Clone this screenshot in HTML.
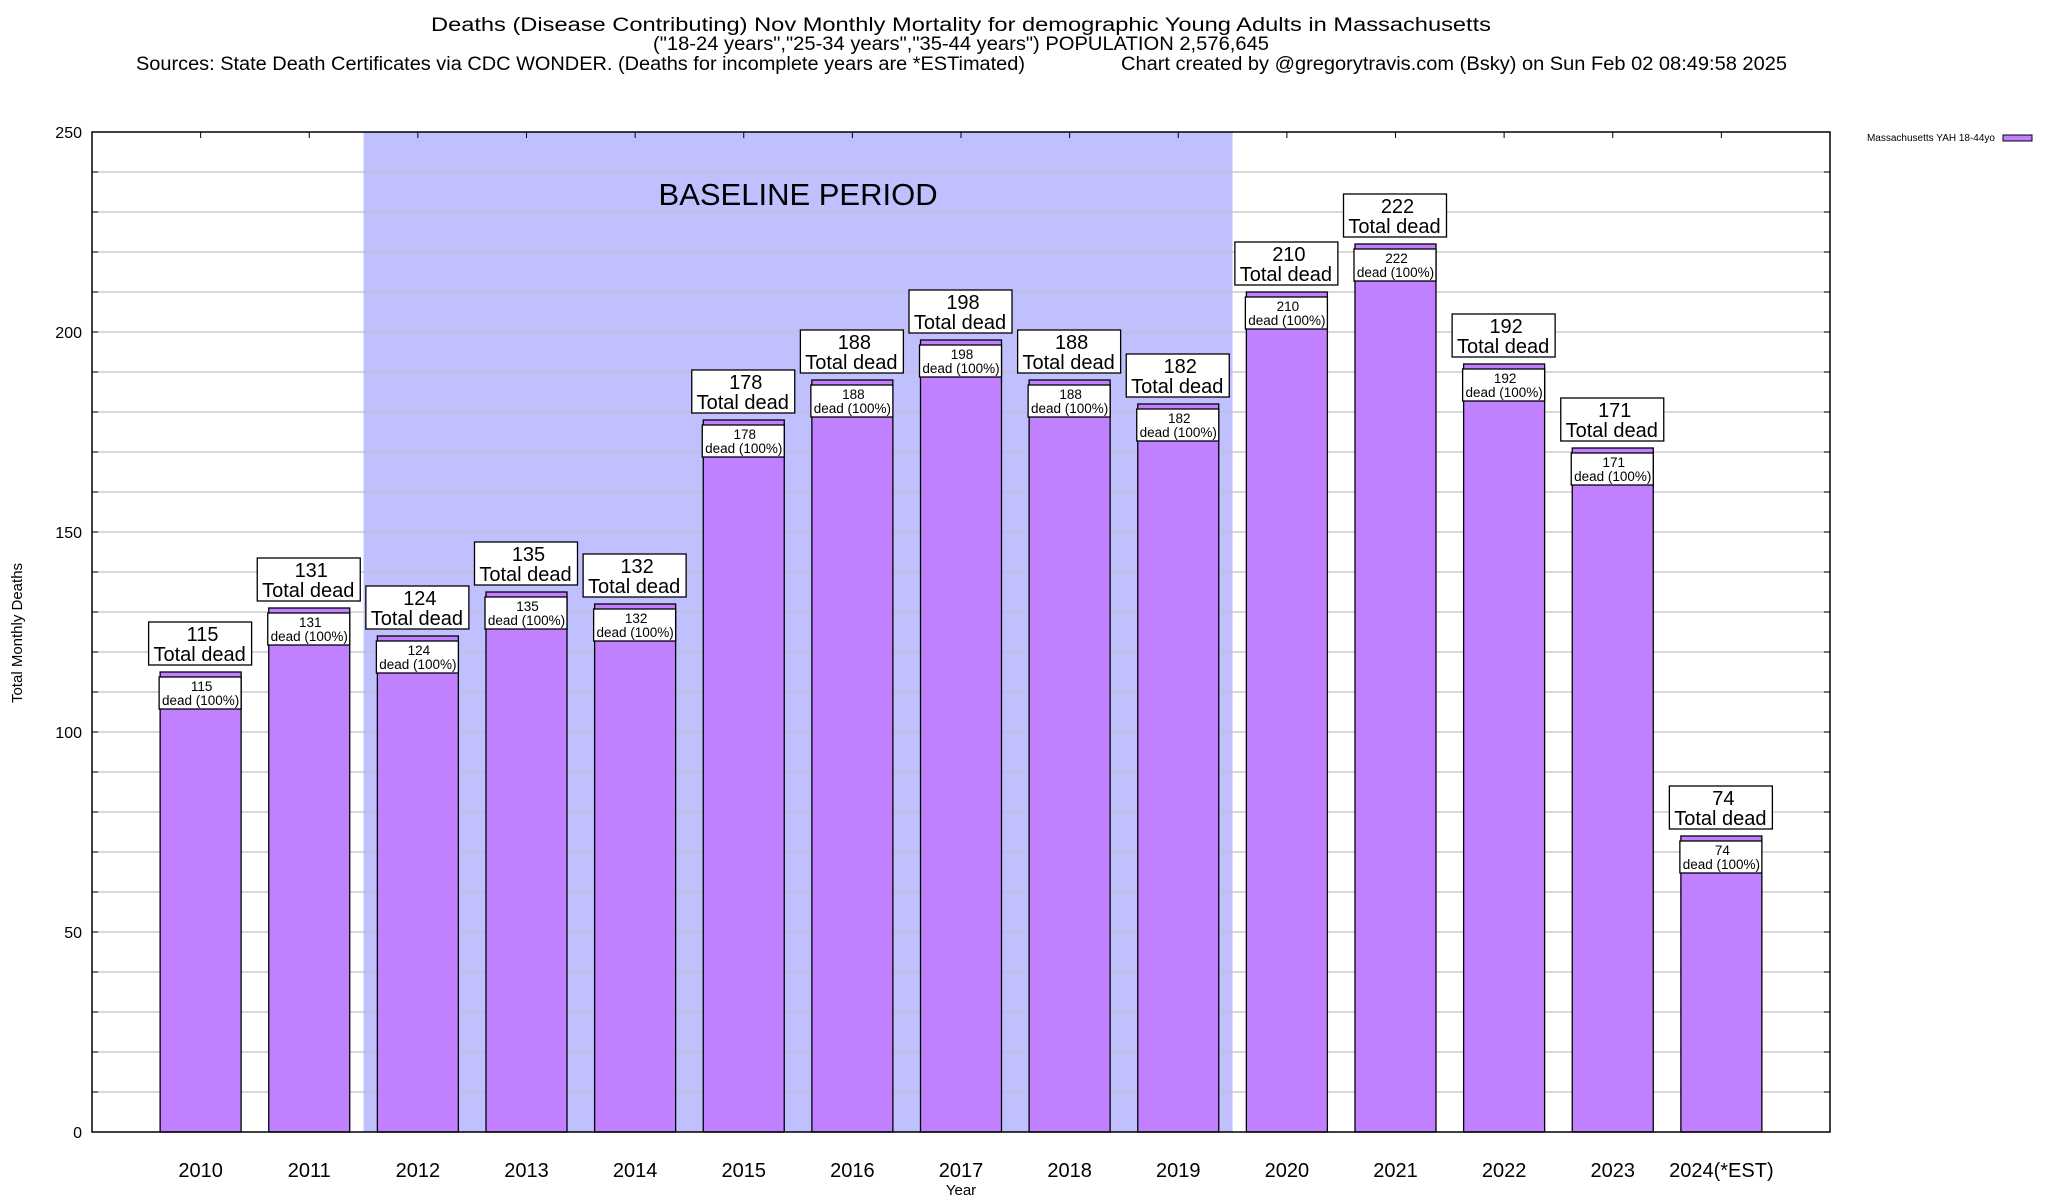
<!DOCTYPE html>
<html><head><meta charset="utf-8"><style>
html,body{margin:0;padding:0;background:#fff}
svg{display:block;font-family:"Liberation Sans",sans-serif}
</style></head><body>
<svg id="chart" width="2048" height="1200" viewBox="0 0 2048 1200">
  <text x="961" y="31" font-size="19" text-anchor="middle" textLength="1060" lengthAdjust="spacingAndGlyphs">Deaths (Disease Contributing) Nov Monthly Mortality for demographic Young Adults in Massachusetts</text>
  <text x="961" y="50" font-size="19" text-anchor="middle" textLength="616" lengthAdjust="spacingAndGlyphs">("18-24 years","25-34 years","35-44 years") POPULATION 2,576,645</text>
  <text x="136" y="70" font-size="19" textLength="889" lengthAdjust="spacingAndGlyphs">Sources: State Death Certificates via CDC WONDER. (Deaths for incomplete years are *ESTimated)</text>
  <text x="1121" y="70" font-size="19" textLength="666" lengthAdjust="spacingAndGlyphs">Chart created by @gregorytravis.com (Bsky) on Sun Feb 02 08:49:58 2025</text>
  <g id="plot"></g>
  <text x="1995" y="141" font-size="10" text-anchor="end">Massachusetts YAH 18-44yo</text>
  <rect x="2003" y="135" width="29" height="6" fill="#c080ff" stroke="#000" stroke-width="1"/>
  <text x="961" y="1195" font-size="15" text-anchor="middle">Year</text>
  <text transform="translate(22,633) rotate(-90)" font-size="15" text-anchor="middle">Total Monthly Deaths</text>
</svg>
<script>
const categories = ["2010","2011","2012","2013","2014","2015","2016","2017","2018","2019","2020","2021","2022","2023","2024(*EST)"];
const values = [115,131,124,135,132,178,188,198,188,182,210,222,192,171,74];
const yTicks = [0,50,100,150,200,250];
const baselineStart = 2;
const baselineEnd = 9;

const NS = "http://www.w3.org/2000/svg";
const L = 92, R = 1830, T = 132, B = 1132;
const yMax = 250;
const slot = (R - L) / (categories.length + 1);
function xC(i){ return L + slot * (i + 1); }
function yS(v){ return B - (v / yMax) * (B - T); }
const g = document.getElementById('plot');
function mk(tag, attrs, parent){
  const e = document.createElementNS(NS, tag);
  for (const k in attrs) e.setAttribute(k, attrs[k]);
  (parent || g).appendChild(e);
  return e;
}

const shade = mk('rect', {x: xC(baselineStart) - slot/2, y: T, width: (baselineEnd - baselineStart + 1) * slot, height: B - T, fill: '#c0c0ff'});


const bt = mk('text', {x: (xC(baselineStart) - slot/2 + xC(baselineEnd) + slot/2)/2, y: 205, 'font-size': 31, 'text-anchor': 'middle'});
bt.textContent = 'BASELINE PERIOD';



for (let v = 10; v < yMax; v += 10) {
  const gl = mk('line', {x1: L, x2: R, y1: yS(v), y2: yS(v), stroke: '#c0c0c0', 'stroke-width': 1.3});
  
  
  mk('line', {x1: L, x2: L + 6, y1: yS(v), y2: yS(v), stroke: '#000', 'stroke-width': 1});
  mk('line', {x1: R - 6, x2: R, y1: yS(v), y2: yS(v), stroke: '#000', 'stroke-width': 1});
}
yTicks.forEach(v => {
  const t = mk('text', {x: 82, y: yS(v) + 6, 'font-size': 16, 'text-anchor': 'end'});
  t.textContent = v;
  
  
});

categories.forEach((c, i) => {
  const cx = xC(i), v = values[i], bw = 81;
  const top = yS(v);
  const bar = mk('rect', {x: cx - bw/2, y: top, width: bw, height: B - top, fill: '#c080ff', stroke: '#000', 'stroke-width': 1.3});
  
  
  const ib = mk('rect', {x: cx - bw/2 - 1, y: top + 5, width: bw + 1, height: 32, fill: '#fff', stroke: '#000', 'stroke-width': 1.3});
  
  
  const t1 = mk('text', {x: cx + 1, y: top + 19, 'font-size': 13.5, 'text-anchor': 'middle'});
  t1.textContent = v;
  
  
  const t2 = mk('text', {x: cx, y: top + 33, 'font-size': 13.5, 'text-anchor': 'middle'});
  t2.textContent = 'dead (100%)';
  
  
  const ob = mk('rect', {x: cx - 52, y: top - 50, width: 103, height: 43, fill: '#fff', stroke: '#000', 'stroke-width': 1.3});
  
  
  const t3 = mk('text', {x: cx + 2, y: top - 31, 'font-size': 20, 'text-anchor': 'middle'});
  t3.textContent = v;
  
  
  const t4 = mk('text', {x: cx - 1, y: top - 11, 'font-size': 20, 'text-anchor': 'middle'});
  t4.textContent = 'Total dead';
  
  
  mk('line', {x1: cx, x2: cx, y1: T, y2: T + 6, stroke: '#000', 'stroke-width': 1});
  const xl = mk('text', {x: cx, y: 1177, 'font-size': 20, 'text-anchor': 'middle'});
  xl.textContent = c;
  
  
});

const frame = mk('rect', {x: L, y: T, width: R - L, height: B - T, fill: 'none', stroke: '#000', 'stroke-width': 1.5});


</script>
</body></html>
